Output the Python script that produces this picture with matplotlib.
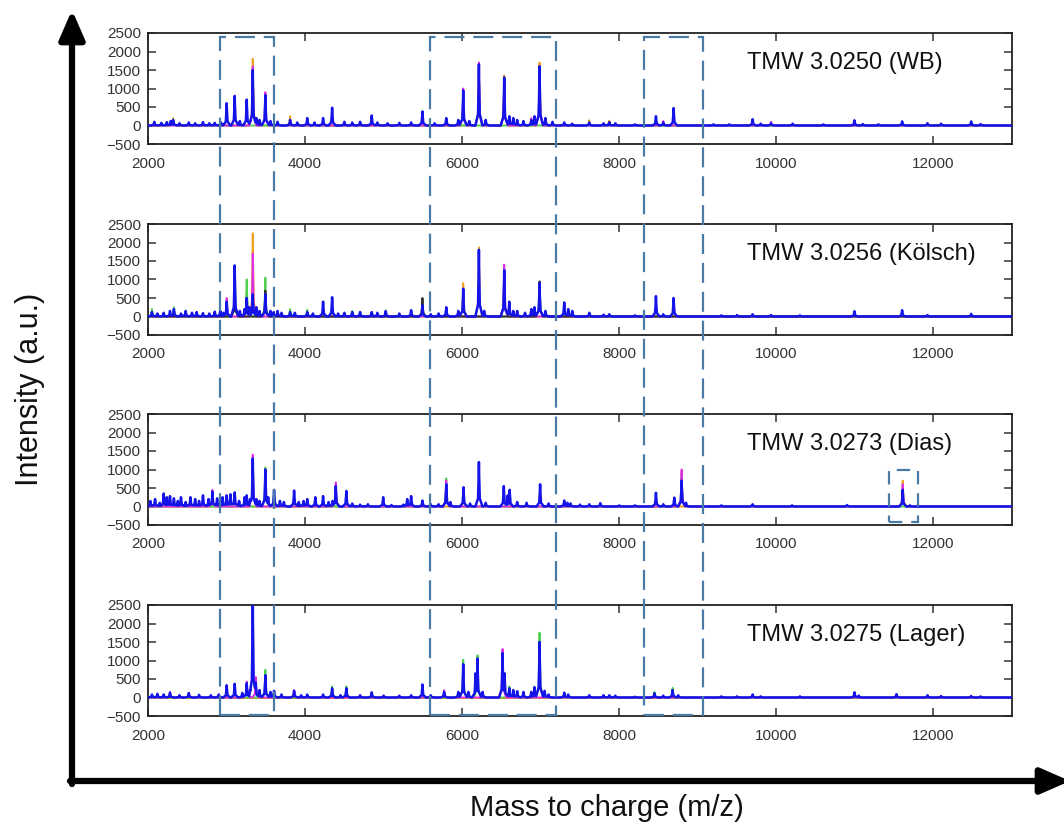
import numpy as np
import matplotlib
matplotlib.use("Agg")
import matplotlib.pyplot as plt
import matplotlib.transforms as mtransforms
from matplotlib.patches import Rectangle

plt.rcParams['font.family'] = ['Liberation Sans', 'DejaVu Sans']

# ---------------- data ----------------
strains = ["TMW 3.0250 (WB)", "TMW 3.0256 (Kölsch)", "TMW 3.0273 (Dias)", "TMW 3.0275 (Lager)"]

# panel 1 (WB): main (blue) spectrum peaks
wb_mz = [2080, 2170, 2240, 2290, 2320, 2400, 2520, 2600, 2700, 2780, 2850, 2930,
         3002, 3104, 3170, 3257, 3334, 3380, 3420, 3494, 3560, 3650, 3809, 3900,
         4027, 4120, 4229, 4344, 4500, 4600, 4700, 4849, 4920, 5050, 5200, 5350,
         5494, 5650, 5797, 5950, 6013, 6090, 6213, 6300, 6535, 6600, 6650, 6700,
         6780, 6880, 6920, 6985, 7060, 7150, 7299, 7400, 7618, 7800, 7873, 7950,
         8200, 8467, 8560, 8692, 9200, 9400, 9698, 9800, 9932, 10207, 10600, 10994,
         11100, 11300, 11601, 11924, 12098, 12480, 12600]
wb_int = [100, 70, 90, 120, 150, 60, 80, 60, 90, 60, 70, 80,
          600, 800, 120, 700, 1500, 200, 150, 820, 120, 100, 150, 80,
          200, 80, 200, 480, 100, 80, 100, 270, 80, 60, 70, 80,
          380, 60, 200, 150, 950, 120, 1650, 150, 1300, 250, 200, 150,
          120, 150, 250, 1600, 200, 100, 80, 50, 80, 60, 90, 60,
          30, 250, 80, 470, 30, 30, 170, 50, 60, 50, 30, 140,
          40, 30, 110, 60, 50, 110, 40]
wb_rep_mz = [2320, 3334, 3494, 3809, 6013, 6213, 6535, 6880, 6985, 7618, 7873, 8560, 9932]
wb_rep_orange = [200, 1800, 0, 250, 0, 1700, 1350, 0, 1700, 140, 130, 0, 0]
wb_rep_magenta = [0, 1600, 900, 0, 1000, 1700, 1200, 200, 1500, 0, 0, 120, 100]
wb_rep_green = [170, 0, 0, 0, 0, 0, 0, 0, 0, 0, 0, 0, 0]

# panel 2 (Kölsch)
ko_mz = [2050, 2120, 2200, 2280, 2330, 2420, 2480, 2560, 2620, 2700, 2780, 2850,
         2920, 2960, 3002, 3104, 3170, 3230, 3257, 3290, 3334, 3380, 3420, 3494,
         3560, 3600, 3650, 3700, 3809, 3870, 4027, 4100, 4229, 4344, 4420, 4500,
         4600, 4700, 4849, 4920, 5027, 5200, 5350, 5494, 5600, 5700, 5797, 5950,
         6013, 6213, 6280, 6535, 6599, 6650, 6700, 6800, 6880, 6920, 6985, 7060,
         7299, 7350, 7401, 7618, 7800, 7873, 8200, 8467, 8560, 8692, 9300, 9500,
         9698, 9932, 10300, 10994, 11601, 11924, 12480]
ko_int = [120, 80, 100, 150, 200, 80, 150, 100, 120, 90, 80, 130,
          150, 100, 400, 1380, 150, 200, 500, 250, 600, 250, 150, 600,
          150, 120, 150, 100, 120, 100, 120, 80, 400, 520, 80, 100,
          120, 120, 120, 100, 150, 80, 170, 300, 60, 80, 250, 150,
          750, 1800, 150, 1250, 400, 150, 150, 100, 200, 250, 900, 150,
          380, 200, 150, 100, 50, 60, 30, 550, 60, 500, 30, 40,
          60, 40, 30, 140, 170, 40, 70]
ko_rep_mz = [2050, 2330, 3002, 3104, 3257, 3334, 3494, 3809, 4027, 4600, 5494, 6013, 6213, 6535, 6985]
ko_rep_orange = [0, 0, 0, 0, 700, 2250, 0, 0, 0, 0, 450, 900, 1870, 1050, 0]
ko_rep_magenta = [0, 0, 500, 0, 0, 1700, 0, 0, 0, 0, 0, 0, 0, 1400, 0]
ko_rep_green = [200, 250, 0, 1300, 1000, 0, 1050, 200, 180, 150, 0, 0, 0, 0, 900]
ko_rep_dark = [0, 0, 0, 800, 0, 0, 700, 0, 0, 0, 500, 0, 0, 0, 950]

# panel 3 (Dias)
di_mz = [2030, 2090, 2150, 2200, 2240, 2280, 2330, 2380, 2420, 2480, 2540, 2600,
         2650, 2700, 2770, 2820, 2880, 2950, 3002, 3050, 3104, 3160, 3230, 3257,
         3300, 3334, 3380, 3420, 3494, 3530, 3605, 3680, 3730, 3860, 3920, 3980,
         4027, 4130, 4229, 4300, 4350, 4391, 4525, 4600, 4700, 4800, 4994, 5100,
         5250, 5300, 5350, 5494, 5600, 5700, 5797, 5850, 6017, 6100, 6213, 6300,
         6530, 6580, 6605, 6700, 6820, 6992, 7100, 7299, 7340, 7380, 7500, 7618,
         7758, 8000, 8200, 8467, 8560, 8700, 8794, 8850, 9300, 9698, 10200, 10900,
         11609, 11700]
di_int = [150, 200, 100, 350, 250, 280, 220, 150, 250, 120, 250, 200,
          150, 300, 200, 400, 220, 250, 300, 330, 380, 150, 250, 300,
          200, 1300, 200, 150, 1000, 250, 450, 150, 120, 430, 120, 150,
          200, 250, 280, 120, 150, 550, 420, 80, 50, 60, 250, 40,
          50, 200, 280, 160, 60, 60, 600, 120, 520, 80, 1200, 100,
          550, 300, 450, 120, 100, 600, 80, 160, 100, 80, 50, 60,
          90, 30, 30, 370, 60, 240, 700, 100, 30, 60, 30, 40,
          450, 30]
di_rep_mz = [2820, 3334, 3494, 4391, 5797, 8794, 11609]
di_rep_orange = [0, 0, 0, 0, 0, 0, 700]
di_rep_magenta = [450, 1400, 0, 650, 700, 1000, 600]
di_rep_green = [0, 0, 1050, 0, 760, 900, 0]

# panel 4 (Lager)
la_mz = [2050, 2120, 2200, 2280, 2400, 2520, 2650, 2800, 2900, 3002, 3104, 3200,
         3257, 3300, 3334, 3372, 3420, 3494, 3560, 3605, 3700, 3860, 3950, 4027,
         4229, 4344, 4450, 4525, 4700, 4849, 5000, 5200, 5350, 5494, 5600, 5770,
         5950, 6013, 6080, 6170, 6195, 6260, 6514, 6540, 6600, 6650, 6700, 6780,
         6880, 6920, 6985, 7050, 7100, 7299, 7350, 7618, 7800, 7873, 7950, 8200,
         8448, 8560, 8679, 8750, 9300, 9500, 9698, 9800, 10300, 10994, 11050, 11529,
         11924, 12098, 12480, 12600]
la_int = [80, 100, 80, 130, 60, 120, 70, 60, 80, 330, 370, 120,
          380, 200, 2700, 400, 200, 600, 150, 180, 80, 180, 60, 80,
          80, 250, 60, 250, 60, 140, 50, 50, 60, 350, 60, 150,
          150, 900, 150, 650, 1050, 150, 1200, 650, 250, 200, 170, 150,
          150, 280, 1500, 180, 80, 130, 80, 60, 60, 60, 50, 20,
          110, 50, 200, 60, 30, 30, 80, 30, 30, 140, 50, 90,
          60, 40, 40, 30]
la_rep_mz = [2280, 2520, 3257, 3372, 3494, 3860, 4344, 4525, 5770, 6013, 6195, 6514, 6600, 6985, 8448, 8679]
la_rep_orange = [0] * 16
la_rep_magenta = [150, 130, 430, 550, 0, 200, 0, 0, 200, 0, 0, 1310, 0, 0, 0, 0]
la_rep_green = [0, 0, 0, 0, 750, 0, 300, 300, 0, 1020, 1140, 0, 300, 1750, 150, 260]

panels = [
    dict(mz=wb_mz, inten=wb_int, rep_mz=wb_rep_mz,
         reps=[wb_rep_orange, wb_rep_green, wb_rep_magenta]),
    dict(mz=ko_mz, inten=ko_int, rep_mz=ko_rep_mz,
         reps=[ko_rep_orange, ko_rep_green, ko_rep_magenta, ko_rep_dark]),
    dict(mz=di_mz, inten=di_int, rep_mz=di_rep_mz,
         reps=[di_rep_orange, di_rep_green, di_rep_magenta]),
    dict(mz=la_mz, inten=la_int, rep_mz=la_rep_mz,
         reps=[la_rep_orange, la_rep_green, la_rep_magenta]),
]
rep_colors = ["#f0a020", "#50d050", "#e030e0", "#303030"]

box_ranges = [(2920, 3600), (5590, 7200), (8320, 9070)]
small_box = (11430, 11800, -420, 990)   # in panel 3 (x0, x1, y0, y1)

xticks = [2000, 4000, 6000, 8000, 10000, 12000]
yticks = [-500, 0, 500, 1000, 1500, 2000, 2500]

# ---------------- helpers ----------------
HALF = 45.0


def spectrum(mz, inten):
    mz = np.asarray(mz, float)
    inten = np.asarray(inten, float)
    keep = inten > 0
    mz, inten = mz[keep], inten[keep]
    xs = [2000.0, 13000.0]
    for m in mz:
        xs += [m - HALF, m - HALF / 4, m - 2, m, m + 2, m + HALF / 4, m + HALF]
    xs = np.unique(np.array(xs))
    ys = np.zeros_like(xs)
    for m, h in zip(mz, inten):
        prof = np.interp(xs, [m - HALF, m - HALF / 4, m - 2, m, m + 2, m + HALF / 4, m + HALF],
                         [0, 0.18 * h, 0.75 * h, h, 0.75 * h, 0.18 * h, 0], left=0, right=0)
        ys = np.maximum(ys, prof)
    return xs, ys


# ---------------- figure ----------------
W, H = 1064, 825
fig = plt.figure(figsize=(W / 100, H / 100), dpi=100)

left_px, right_px = 148, 1012
tops = [33, 224, 414, 605]
ph = 111
axes = []
for i, p in enumerate(panels):
    t = tops[i]
    ax = fig.add_axes([left_px / W, 1 - (t + ph) / H, (right_px - left_px) / W, ph / H])
    axes.append(ax)
    for rep, col in zip(p["reps"], rep_colors):
        x, y = spectrum(p["rep_mz"], rep)
        ax.plot(x, y, color=col, lw=1.4, zorder=2)
    x, y = spectrum(p["mz"], p["inten"])
    ax.plot(x, y, color="#1414e8", lw=1.8, zorder=3)
    ax.set_xlim(2000, 13000)
    ax.set_ylim(-500, 2500)
    ax.set_xticks(xticks)
    ax.set_yticks(yticks)
    ax.tick_params(direction="in", top=True, right=True, length=6, width=1.1,
                   labelsize=11, labelcolor="#333333", color="#333333")
    ax.tick_params(axis="x", pad=9)
    ax.tick_params(axis="y", pad=5)
    for s in ax.spines.values():
        s.set_linewidth(1.3)
        s.set_color("#222222")
    ax.text(9620, 1700, strains[i], fontsize=17, ha="left", va="center", color="#111111")

sb = small_box
axes[2].add_patch(Rectangle((sb[0], sb[2]), sb[1] - sb[0], sb[3] - sb[2], fill=False,
                            ec="#4a7aa6", lw=1.6, ls=(0, (6, 4)), zorder=5, clip_on=False))

ov = fig.add_axes([0, 0, 1, 1], facecolor="none")
ov.set_xlim(0, W)
ov.set_ylim(H, 0)
ov.axis("off")

blend = mtransforms.blended_transform_factory(axes[0].transData, fig.transFigure)
y_top = 1 - 37 / H
y_bot = 1 - 715 / H
for x0, x1 in box_ranges:
    r = Rectangle((x0, y_bot), x1 - x0, y_top - y_bot, transform=blend, fill=False,
                  ec="#4a7aa6", lw=1.6, ls=(0, (9, 4)), zorder=10, clip_on=False)
    ov.add_patch(r)

arrow_style = "-|>,head_length=0.8,head_width=0.35"
ov.annotate("", xy=(72, 10), xytext=(72, 784), annotation_clip=False,
            arrowprops=dict(arrowstyle=arrow_style, lw=4.5, color="black",
                            shrinkA=0, shrinkB=0, mutation_scale=22))
ov.annotate("", xy=(1070, 781), xytext=(70, 781), annotation_clip=False,
            arrowprops=dict(arrowstyle=arrow_style, lw=4.5, color="black",
                            shrinkA=0, shrinkB=0, mutation_scale=22))

ov.text(30, 389, "Intensity (a.u.)", rotation=90, fontsize=22, ha="center", va="center",
        color="#111111")
ov.text(607, 808, "Mass to charge (m/z)", fontsize=21, ha="center", va="center",
        color="#111111")

fig.savefig("out.png", dpi=100)
